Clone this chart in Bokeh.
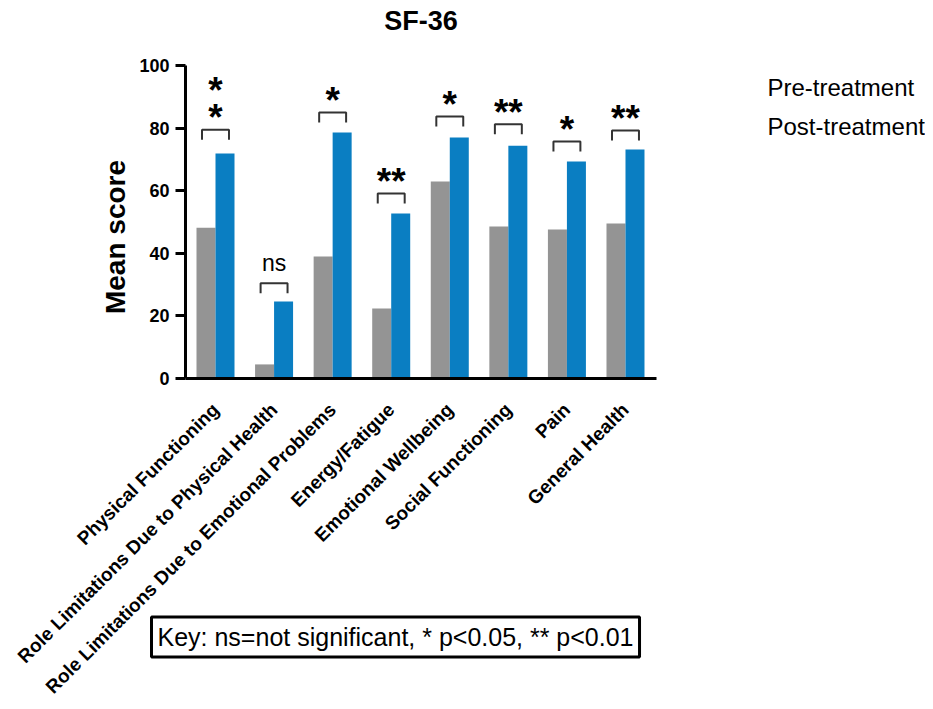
import math
from bokeh.plotting import figure
from bokeh.models import ColumnDataSource, Label, Range1d, FixedTicker, LinearAxis
from bokeh.core.properties import value
from bokeh.embed import file_html
from bokeh.resources import INLINE

# ---- data ----
categories = [
    "Physical Functioning",
    "Role Limitations Due to Physical Health",
    "Role Limitations Due to Emotional Problems",
    "Energy/Fatigue",
    "Emotional Wellbeing",
    "Social Functioning",
    "Pain",
    "General Health",
]
pre_treatment = [48.2, 4.5, 39.0, 22.4, 62.9, 48.6, 47.6, 49.5]
post_treatment = [71.9, 24.6, 78.6, 52.7, 77.0, 74.4, 69.3, 73.2]
sig_labels = ["*\n*", "ns", "*", "**", "*", "**", "*", "**"]
bracket_heights = [79.5, 30.4, 85.0, 59.1, 83.7, 81.2, 75.7, 79.2]
y_ticks = [0, 20, 40, 60, 80, 100]
series_names = ["Pre-treatment", "Post-treatment"]
key_text = "Key: ns=not significant, * p<0.05, ** p<0.01"
title_text = "SF-36"
y_label = "Mean score"

FONT = "Liberation Sans"
GRAY = "#949494"
BLUE = "#0a7ec2"

# ---- layout (pixels) ----
W, H = 925, 701
X_C0, X_STEP = 215.0, 58.57        # pixel centre of first group, group spacing
Y_0, Y_PER = 378.0, 3.13           # pixel of y=0, pixels per unit
def px_x(px): return (px - X_C0) / X_STEP
def px_y(py): return (Y_0 - py) / Y_PER

idx = list(range(len(categories)))
bw = 19.0 / X_STEP
source = ColumnDataSource(dict(
    idx=idx,
    x_pre=[i - bw / 2 for i in idx], x_post=[i + bw / 2 for i in idx],
    pre=pre_treatment, post=post_treatment))

p = figure(
    x_range=Range1d(px_x(0), px_x(W)), y_range=Range1d(px_y(H), px_y(0)),
    width=W, height=H, output_backend="svg", toolbar_location=None,
    x_axis_type=None, y_axis_type=None,
    min_border=0,
)
p.outline_line_color = None
p.grid.visible = False

p.vbar(x="x_pre", top="pre", width=bw, source=source, fill_color=GRAY, line_color=None)
p.vbar(x="x_post", top="post", width=bw, source=source, fill_color=BLUE, line_color=None)

# significance brackets
half = 0.23
leg = 3.2
xs, ys = [], []
for i, h in enumerate(bracket_heights):
    xs.append([i - half, i - half, i + half, i + half])
    ys.append([h - leg, h, h, h - leg])
p.multi_line(xs=xs, ys=ys, line_color="#333333", line_width=2)

star_x, star_y, star_t = [], [], []
ns_x, ns_y, ns_t = [], [], []
line_step = 8.6
for i, (lab, h) in enumerate(zip(sig_labels, bracket_heights)):
    lines = lab.split("\n")
    for k, ln in enumerate(reversed(lines)):
        if ln == "ns":
            ns_x.append(i); ns_y.append(h + 6.6); ns_t.append(ln)
        else:
            star_x.append(i); star_y.append(h + 3.8 + k * line_step); star_t.append(ln)

p.text(x=star_x, y=star_y, text=star_t, text_font=value(FONT), text_font_size="37px",
       text_font_style="bold", text_align="center", text_baseline="alphabetic", text_color="black")
p.text(x=ns_x, y=ns_y, text=ns_t, text_font=value(FONT), text_font_size="23px",
       text_align="center", text_baseline="alphabetic", text_color="black")

# axes (pinned inside the frame)
x_lo, x_hi = px_x(185), px_x(656)
ya = LinearAxis(fixed_location=x_lo, bounds=(0, 100), ticker=FixedTicker(ticks=y_ticks))
ya.major_label_text_font = FONT
ya.major_label_text_font_size = "18px"
ya.major_label_text_font_style = "bold"
ya.major_label_text_color = "black"
ya.axis_line_width = 3
ya.axis_line_color = "black"
ya.major_tick_line_width = 3
ya.major_tick_line_color = "black"
ya.major_tick_out = 10
ya.major_tick_in = 0
ya.minor_tick_line_color = None
ya.major_label_standoff = 6
p.add_layout(ya, "left")

xa = LinearAxis(fixed_location=0, bounds=(x_lo, x_hi), ticker=FixedTicker(ticks=idx))
xa.major_label_overrides = {i: c for i, c in zip(idx, categories)}
xa.axis_line_width = 3
xa.axis_line_color = "black"
xa.major_tick_line_color = None
xa.minor_tick_line_color = None
xa.major_label_orientation = math.pi / 4
xa.major_label_text_font = FONT
xa.major_label_text_font_size = "19px"
xa.major_label_text_font_style = "bold"
xa.major_label_text_color = "black"
xa.major_label_standoff = 22
p.add_layout(xa, "below")

# y-axis title
p.add_layout(Label(x=px_x(114.5), y=px_y(236.5), text=y_label, angle=math.pi / 2,
                   text_font=FONT, text_font_size="28px", text_font_style="bold",
                   text_align="center", text_baseline="middle", text_color="black"))

# chart title
p.add_layout(Label(x=(x_lo + x_hi) / 2, y=px_y(20), text=title_text, text_font=FONT,
                   text_font_size="27px", text_font_style="bold", text_align="center",
                   text_baseline="middle", text_color="black"))

# series names (reference shows them without swatches)
for name, py in zip(series_names, [86.5, 125.5]):
    p.add_layout(Label(x=px_x(767), y=px_y(py), text=name, text_font=FONT, text_font_size="24px",
                       text_baseline="middle", text_align="left", text_color="black"))

# key box
p.add_layout(Label(x=px_x(151), y=px_y(636.5), text=key_text, text_font=FONT, text_font_size="25px",
                   text_baseline="middle", text_align="left", text_color="black",
                   border_line_color="black", border_line_width=3,
                   background_fill_color="white", padding=6))

open("out.html", "w").write(file_html(p, INLINE))
